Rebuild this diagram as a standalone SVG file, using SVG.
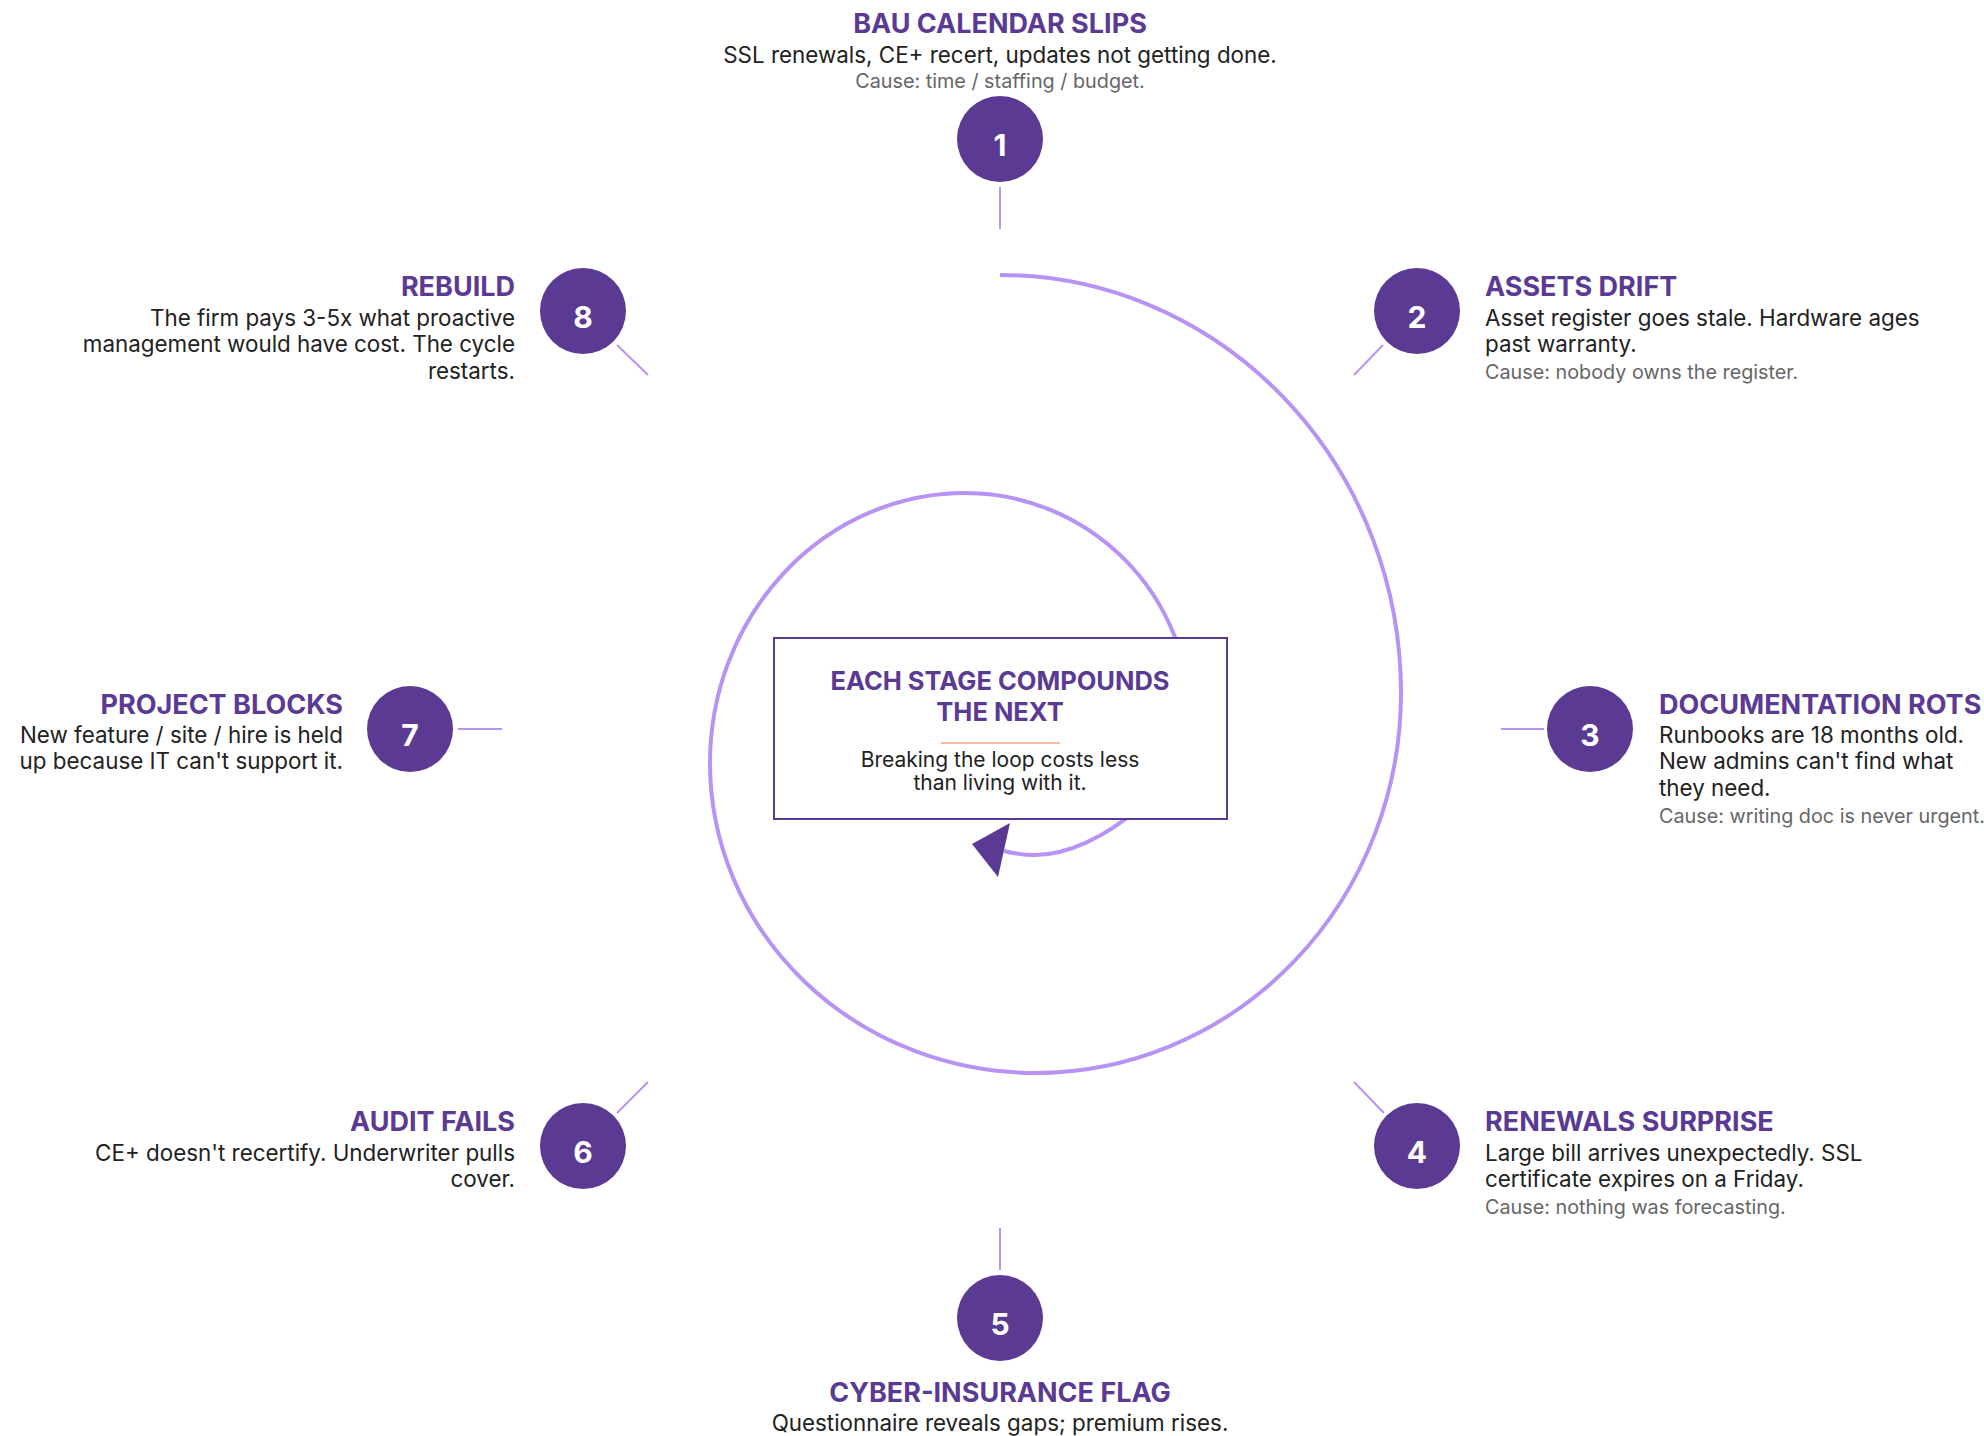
<svg xmlns="http://www.w3.org/2000/svg" width="1984" height="1436" viewBox="0 0 1984 1436">
<style>
.t{font-family:Inter,"Noto Sans",sans-serif;font-weight:700;font-size:27px;fill:#5B3A94}
.b{font-family:Inter,"Noto Sans",sans-serif;font-size:22.4px;fill:#222}
.c{font-family:Inter,"Noto Sans",sans-serif;font-size:19.8px;fill:#666}
.n{font-family:Inter,"Noto Sans",sans-serif;font-weight:700;font-size:30px;fill:#fff;text-anchor:middle}
.dot{fill:#5B3A94}
.tick{stroke:#B794F4;stroke-width:2;fill:none}
.r{text-anchor:end}
.m{text-anchor:middle}
</style>
<rect width="1984" height="1436" fill="#fff"/>
<g id="connectors">
<path d="M1000 275 A401 418 0 0 1 1401 693 A366 380 0 0 1 1035 1073 A325 310 0 0 1 710 763 A255 270 0 0 1 965 493 A225 225 0 0 1 1190 718 C1190 780 1100 855 1035 855 C1022 855 1012 853 1004 851" fill="none" stroke="#B794F4" stroke-width="4"/>
<polygon points="972,844 1010,823 998,877" fill="#5B3A94"/>
<line class="tick" x1="1000" y1="187" x2="1000" y2="229"/>
<line class="tick" x1="1383" y1="345" x2="1354" y2="375"/>
<line class="tick" x1="1544" y1="729" x2="1501" y2="729"/>
<line class="tick" x1="1384" y1="1113" x2="1354" y2="1082"/>
<line class="tick" x1="1000" y1="1270" x2="1000" y2="1228"/>
<line class="tick" x1="617" y1="1113" x2="648" y2="1082"/>
<line class="tick" x1="458" y1="729" x2="502" y2="729"/>
<line class="tick" x1="617" y1="345" x2="648" y2="375"/>
</g>
<g id="center">
<rect x="774" y="638" width="453" height="181" fill="#fff" stroke="#5B3A94" stroke-width="2"/>
<text class="t m" x="1000" y="690" style="font-size:25.5px">EACH STAGE COMPOUNDS</text>
<text class="t m" x="1000" y="721" style="font-size:25.5px">THE NEXT</text>
<line x1="941" y1="743" x2="1060" y2="743" stroke="#F6B9A3" stroke-width="2"/>
<text class="b m" x="1000" y="767" style="font-size:21px">Breaking the loop costs less</text>
<text class="b m" x="1000" y="790" style="font-size:21px">than living with it.</text>
</g>
<g id="node1">
<circle class="dot" cx="1000" cy="139" r="43"/>
<text class="n" x="1000" y="156">1</text>
<text class="t m" x="1000" y="33">BAU CALENDAR SLIPS</text>
<text class="b m" x="1000" y="63">SSL renewals, CE+ recert, updates not getting done.</text>
<text class="c m" x="1000" y="88">Cause: time / staffing / budget.</text>
</g>
<g id="node2">
<circle class="dot" cx="1417" cy="311" r="43"/>
<text class="n" x="1417" y="328">2</text>
<text class="t" x="1485" y="296">ASSETS DRIFT</text>
<text class="b" x="1485" y="326">Asset register goes stale. Hardware ages</text>
<text class="b" x="1485" y="352">past warranty.</text>
<text class="c" x="1485" y="379">Cause: nobody owns the register.</text>
</g>
<g id="node3">
<circle class="dot" cx="1590" cy="729" r="43"/>
<text class="n" x="1590" y="746">3</text>
<text class="t" x="1659" y="714">DOCUMENTATION ROTS</text>
<text class="b" x="1659" y="743">Runbooks are 18 months old.</text>
<text class="b" x="1659" y="769">New admins can't find what</text>
<text class="b" x="1659" y="796">they need.</text>
<text class="c" x="1659" y="823">Cause: writing doc is never urgent.</text>
</g>
<g id="node4">
<circle class="dot" cx="1417" cy="1146" r="43"/>
<text class="n" x="1417" y="1163">4</text>
<text class="t" x="1485" y="1131">RENEWALS SURPRISE</text>
<text class="b" x="1485" y="1161">Large bill arrives unexpectedly. SSL</text>
<text class="b" x="1485" y="1187">certificate expires on a Friday.</text>
<text class="c" x="1485" y="1214">Cause: nothing was forecasting.</text>
</g>
<g id="node5">
<circle class="dot" cx="1000" cy="1318" r="43"/>
<text class="n" x="1000" y="1335">5</text>
<text class="t m" x="1000" y="1402">CYBER-INSURANCE FLAG</text>
<text class="b m" x="1000" y="1431">Questionnaire reveals gaps; premium rises.</text>
</g>
<g id="node6">
<circle class="dot" cx="583" cy="1146" r="43"/>
<text class="n" x="583" y="1163">6</text>
<text class="t r" x="515" y="1131">AUDIT FAILS</text>
<text class="b r" x="515" y="1161">CE+ doesn't recertify. Underwriter pulls</text>
<text class="b r" x="515" y="1187">cover.</text>
</g>
<g id="node7">
<circle class="dot" cx="410" cy="729" r="43"/>
<text class="n" x="410" y="746">7</text>
<text class="t r" x="343" y="714">PROJECT BLOCKS</text>
<text class="b r" x="343" y="743">New feature / site / hire is held</text>
<text class="b r" x="343" y="769">up because IT can't support it.</text>
</g>
<g id="node8">
<circle class="dot" cx="583" cy="311" r="43"/>
<text class="n" x="583" y="328">8</text>
<text class="t r" x="515" y="296">REBUILD</text>
<text class="b r" x="515" y="326">The firm pays 3-5x what proactive</text>
<text class="b r" x="515" y="352">management would have cost. The cycle</text>
<text class="b r" x="515" y="379">restarts.</text>
</g>
</svg>
